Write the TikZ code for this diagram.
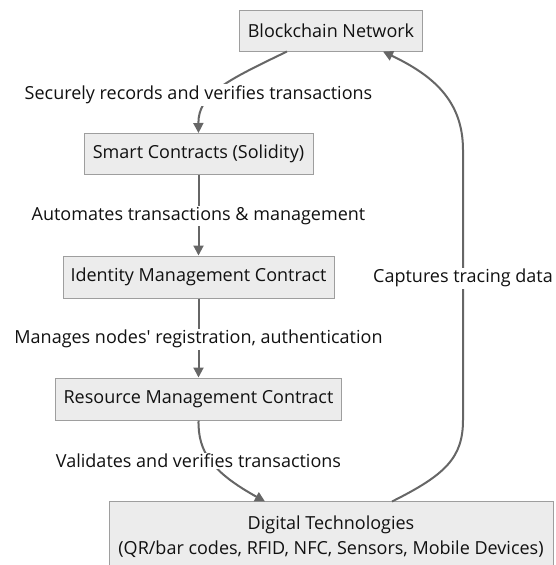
\documentclass[tikz,border=0pt]{standalone}
\usepackage{fontspec}
\setmainfont{Open Sans}
\usetikzlibrary{arrows.meta}

\definecolor{boxfill}{HTML}{ECECEC}
\definecolor{boxline}{HTML}{9E9E9E}
\definecolor{edgeline}{HTML}{666666}
\definecolor{txt}{HTML}{111111}

\tikzset{
  stepbox/.style={draw=boxline, fill=boxfill, line width=1pt, text=txt,
    font=\fontsize{18}{25}\selectfont, inner sep=0pt, align=center},
  flow/.style={draw=edgeline, line width=2pt,
    -{Triangle[length=10pt,width=10pt]}},
  lbl/.style={fill=white, text=txt, inner sep=1.5pt,
    font=\fontsize{18}{22}\selectfont}
}

\begin{document}
\begin{tikzpicture}[x=1pt,y=-1pt]
\useasboundingbox (0,0) rectangle (555,565);

% process boxes
\node[stepbox, minimum width=183pt, minimum height=41pt] (chain) at (331,31) {Blockchain Network};
\node[stepbox, minimum width=229pt, minimum height=41pt] (smart) at (198.5,154) {Smart Contracts (Solidity)};
\node[stepbox, minimum width=271pt, minimum height=42pt] (ident) at (198.5,277) {Identity Management Contract};
\node[stepbox, minimum width=286pt, minimum height=42pt] (res) at (198.5,399) {Resource Management Contract};
\node[stepbox, minimum width=444pt, minimum height=70pt] (digi) at (331,536.5)
  {Digital Technologies\\(QR/bar codes, RFID, NFC, Sensors, Mobile Devices)};

% free ends of the curved connectors
\coordinate (c1) at (287,51.5);
\coordinate (c4) at (265,501.5);
\coordinate (c5a) at (392,501.5);
\coordinate (c5b) at (383,51.5);

% connectors
\draw[flow] (c1) .. controls (228,80) and (198,94) .. (smart.north);
\node[lbl] (l1) at (198.5,95) {Securely records and verifies transactions};

\draw[flow] (smart.south) -- (ident.north);
\node[lbl] (l2) at (198.5,216) {Automates transactions \& management};

\draw[flow] (ident.south) -- (res.north);
\node[lbl] (l3) at (198.5,339) {Manages nodes\textquotesingle{} registration, authentication};

\draw[flow] (res.south) .. controls (198,452) and (212,472) .. (c4);
\node[lbl] (l4) at (198.5,461) {Validates and verifies transactions};

\draw[flow] (c5a) .. controls (445,475) and (463,458) .. (463,420)
  -- (463,150) .. controls (463,100) and (432,75) .. (c5b);
\node[lbl] (l5) at (463,278) {Captures tracing data};
\end{tikzpicture}
\end{document}
